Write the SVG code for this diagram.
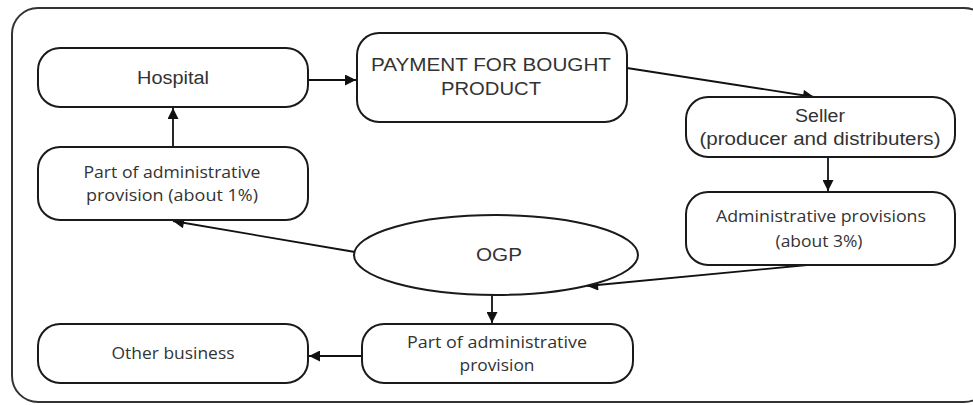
<svg xmlns="http://www.w3.org/2000/svg" width="973" height="405" viewBox="0 0 973 405">
<style>
.box{fill:#fff;stroke:#1a1a1a;stroke-width:2}
.frame{fill:#fff;stroke:#333;stroke-width:2}
.c{fill:none;stroke:#111;stroke-width:1.8}
.a{font-family:"Liberation Sans",Arial,sans-serif;font-size:18px;fill:#333;text-anchor:middle}
.o{font-family:"Open Sans","Noto Sans",sans-serif;font-size:17px;fill:#333;text-anchor:middle}
</style>
<defs>
<marker id="ahs" viewBox="0 0 10 10" refX="10" refY="5" markerWidth="13" markerHeight="11" markerUnits="userSpaceOnUse" orient="auto">
<path d="M0,0 L10,5 L0,10 z" fill="#111"/>
</marker>
</defs>
<rect class="frame" x="12" y="8" width="978" height="394" rx="26"/>
<g id="connectors">
<line class="c" x1="308" y1="80" x2="356" y2="80" marker-end="url(#ahs)"/>
<line class="c" x1="627" y1="68" x2="814" y2="97" marker-end="url(#ahs)"/>
<line class="c" x1="828" y1="157" x2="828" y2="191" marker-end="url(#ahs)"/>
<line class="c" x1="807" y1="265" x2="587" y2="286" marker-end="url(#ahs)"/>
<line class="c" x1="355" y1="252" x2="173" y2="221" marker-end="url(#ahs)"/>
<line class="c" x1="173" y1="147" x2="173" y2="108" marker-end="url(#ahs)"/>
<line class="c" x1="492" y1="295" x2="492" y2="323" marker-end="url(#ahs)"/>
<line class="c" x1="362" y1="356" x2="309" y2="356" marker-end="url(#ahs)"/>
</g>
<g id="hospital">
<rect class="box" x="38" y="48" width="270" height="59" rx="22"/>
<text class="a" x="173" y="84" textLength="72" lengthAdjust="spacingAndGlyphs">Hospital</text>
</g>
<g id="payment">
<rect class="box" x="357" y="33" width="270" height="89" rx="22"/>
<text class="a" x="491" y="71" font-size="19" textLength="240" lengthAdjust="spacingAndGlyphs">PAYMENT FOR BOUGHT</text>
<text class="a" x="491" y="95" font-size="19" textLength="100" lengthAdjust="spacingAndGlyphs">PRODUCT</text>
</g>
<g id="seller">
<rect class="box" x="686" y="97" width="269" height="60" rx="22"/>
<text class="a" x="820" y="122" textLength="50" lengthAdjust="spacingAndGlyphs">Seller</text>
<text class="a" x="820" y="145" textLength="241" lengthAdjust="spacingAndGlyphs">(producer and distributers)</text>
</g>
<g id="admin3">
<rect class="box" x="686" y="192" width="269" height="73" rx="22"/>
<text class="o" x="821" y="222" textLength="210" lengthAdjust="spacingAndGlyphs">Administrative provisions</text>
<text class="o" x="819" y="247" textLength="87" lengthAdjust="spacingAndGlyphs">(about 3%)</text>
</g>
<g id="admin1">
<rect class="box" x="38" y="147" width="270" height="73" rx="22"/>
<text class="o" x="172" y="178" textLength="177" lengthAdjust="spacingAndGlyphs">Part of administrative</text>
<text class="o" x="172" y="201" textLength="172" lengthAdjust="spacingAndGlyphs">provision (about 1%)</text>
</g>
<g id="ogp">
<ellipse class="box" cx="496" cy="255" rx="142" ry="40"/>
<text class="a" x="499" y="261" font-size="19" textLength="46" lengthAdjust="spacingAndGlyphs">OGP</text>
</g>
<g id="adminpart">
<rect class="box" x="362" y="324" width="271" height="59" rx="22"/>
<text class="o" x="497" y="348" textLength="180" lengthAdjust="spacingAndGlyphs">Part of administrative</text>
<text class="o" x="497" y="371" textLength="75" lengthAdjust="spacingAndGlyphs">provision</text>
</g>
<g id="other">
<rect class="box" x="38" y="324" width="270" height="59" rx="22"/>
<text class="o" x="173" y="359" textLength="123" lengthAdjust="spacingAndGlyphs">Other business</text>
</g>
</svg>
